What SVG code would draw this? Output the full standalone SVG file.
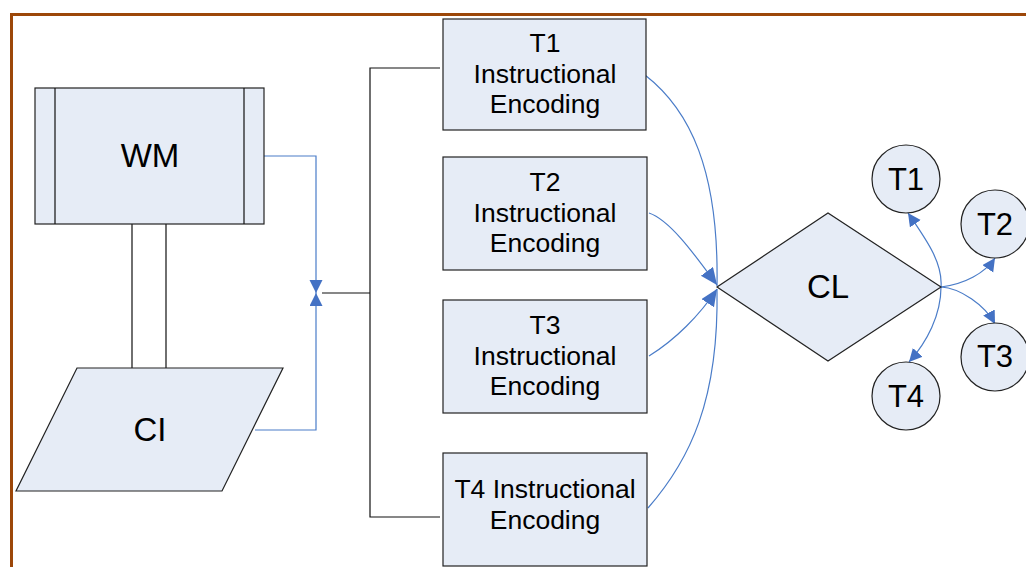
<svg xmlns="http://www.w3.org/2000/svg" width="1026" height="567" viewBox="0 0 1026 567">
<style>
.shape{fill:#E6ECF6;stroke:#222;stroke-width:1.2}
.t{font-family:"Liberation Sans",Arial,sans-serif;fill:#000;text-anchor:middle}
.box{font-size:26.5px}
.big{font-size:33px}
.circ{font-size:31px}
.blue{fill:none;stroke:#4A7CC8;stroke-width:1.2}
.blk{fill:none;stroke:#111;stroke-width:1.2}
</style>
<defs>
<marker id="ah" markerUnits="userSpaceOnUse" markerWidth="14" markerHeight="14" refX="13" refY="6.5" orient="auto">
<path d="M0,0 L13,6.5 L0,13 z" fill="#4472C4"/>
</marker>
<marker id="ahL" markerUnits="userSpaceOnUse" markerWidth="18" markerHeight="16" refX="17" refY="7.5" orient="auto">
<path d="M0,0 L17,7.5 L0,15 z" fill="#4472C4"/>
</marker>
</defs>
<rect width="1026" height="567" fill="#fff"/>
<path d="M11.5,567 V14.5 H1026" fill="none" stroke="#9C4709" stroke-width="3"/>

<g id="connectors">
<path class="blue" d="M264,156 H316 V293" marker-end="url(#ah)"/>
<path class="blue" d="M255,430 H316 V293" marker-end="url(#ah)"/>
<path class="blk" d="M322,293 H370"/>
<path class="blk" d="M440,68 H370 V517 H440"/>
<path class="blk" d="M132,224 V375 M166,224 V375"/>
<path class="blue" d="M645,75 C690,110 719,170 717,286"/>
<path class="blue" d="M649,213 C670,220 695,255 717,285" marker-end="url(#ahL)"/>
<path class="blue" d="M649,356 C675,340 700,315 717,289" marker-end="url(#ahL)"/>
<path class="blue" d="M648,508 C690,460 719,400 717,289"/>
<path class="blue" d="M941,287 C943,262 925,238 908,213" marker-end="url(#ah)"/>
<path class="blue" d="M941,287 C941,315 927,342 909,362" marker-end="url(#ah)"/>
<path class="blue" d="M941,287 C965,284 985,273 995,258" marker-end="url(#ah)"/>
<path class="blue" d="M941,287 C960,288 985,305 995,324" marker-end="url(#ah)"/>
</g>

<g id="WM">
<rect class="shape" x="35" y="88" width="229" height="136"/>
<path class="blk" d="M55,88 V224 M244,88 V224"/>
<text class="t big" x="150" y="167">WM</text>
</g>

<g id="CI">
<polygon class="shape" points="77,368 283,368 222,491 16,491"/>
<text class="t big" x="150" y="441">CI</text>
</g>

<g id="T1box">
<rect class="shape" x="443" y="19" width="203" height="111"/>
<text class="t box" x="545" y="52">T1</text>
<text class="t box" x="545" y="83">Instructional</text>
<text class="t box" x="545" y="113">Encoding</text>
</g>

<g id="T2box">
<rect class="shape" x="443" y="157" width="204" height="113"/>
<text class="t box" x="545" y="191">T2</text>
<text class="t box" x="545" y="222">Instructional</text>
<text class="t box" x="545" y="252">Encoding</text>
</g>

<g id="T3box">
<rect class="shape" x="443" y="300" width="204" height="113"/>
<text class="t box" x="545" y="334">T3</text>
<text class="t box" x="545" y="365">Instructional</text>
<text class="t box" x="545" y="395">Encoding</text>
</g>

<g id="T4box">
<rect class="shape" x="443" y="453" width="204" height="113"/>
<text class="t box" x="545" y="498">T4 Instructional</text>
<text class="t box" x="545" y="529">Encoding</text>
</g>

<g id="CL">
<polygon class="shape" points="717,287 828,213 941,287 828,361"/>
<text class="t big" x="828" y="298">CL</text>
</g>

<g id="T1">
<circle class="shape" cx="906" cy="179" r="34"/>
<text class="t circ" x="906" y="190">T1</text>
</g>
<g id="T2">
<circle class="shape" cx="995" cy="224" r="34"/>
<text class="t circ" x="995" y="235">T2</text>
</g>
<g id="T3">
<circle class="shape" cx="995" cy="357" r="34"/>
<text class="t circ" x="995" y="367">T3</text>
</g>
<g id="T4">
<circle class="shape" cx="906" cy="396" r="34"/>
<text class="t circ" x="906" y="407">T4</text>
</g>
</svg>
